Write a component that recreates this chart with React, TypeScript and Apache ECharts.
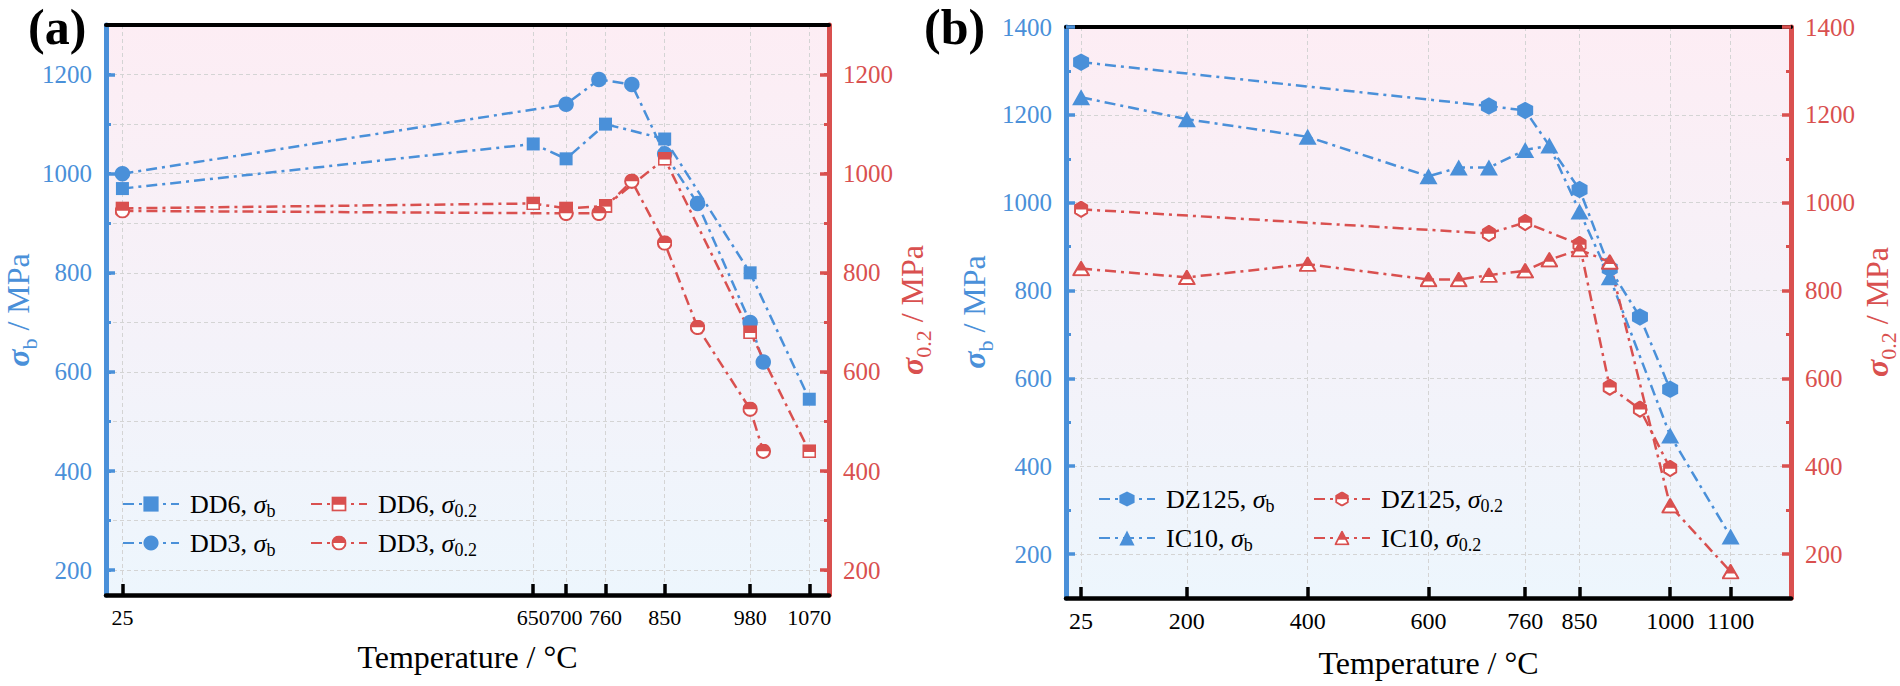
import React, { useEffect, useRef } from 'react';
import * as echarts from 'echarts';

const BLUE = '#4a90d9';
const RED = '#d9504f';
const FONT = 'Liberation Serif, serif';

// ---- Panel (a) data ----
const A_XTICKS = [25, 650, 700, 760, 850, 980, 1070];
const DD6_T = [25, 650, 700, 760, 850, 980, 1070];
const DD6_SB = [970, 1060, 1030, 1100, 1070, 800, 545];
const DD6_S02 = [930, 940, 930, 935, 1030, 680, 440];
const DD3_T = [25, 700, 750, 800, 850, 900, 980, 1000];
const DD3_SB = [1000, 1140, 1190, 1180, 1040, 940, 700, 620];
const DD3_S02 = [925, 920, 920, 985, 860, 690, 525, 440];
const A_YMAJOR = [200, 400, 600, 800, 1000, 1200];
const A_YGRID = [200, 300, 400, 500, 600, 700, 800, 900, 1000, 1100, 1200];

// ---- Panel (b) data ----
const B_XTICKS = [25, 200, 400, 600, 760, 850, 1000, 1100];
const DZ125_T = [25, 700, 760, 850, 900, 950, 1000];
const DZ125_SB = [1320, 1220, 1210, 1030, 850, 740, 575];
const DZ125_S02 = [985, 930, 955, 905, 580, 530, 395];
const IC10_T = [25, 200, 400, 600, 650, 700, 760, 800, 850, 900, 1000, 1100];
const IC10_SB = [1240, 1190, 1150, 1060, 1080, 1080, 1120, 1130, 980, 830, 470, 240];
const IC10_S02 = [850, 830, 860, 825, 825, 835, 845, 870, 893, 865, 310, 160];
const B_YMAJOR = [200, 400, 600, 800, 1000, 1200, 1400];
const B_YMINOR = [300, 500, 700, 900, 1100, 1300];

const LABELS: Record<string, string> = {
  DD6_b: 'DD6, {i|σ}{s|b}',
  DD3_b: 'DD3, {i|σ}{s|b}',
  DD6_02: 'DD6, {i|σ}{s|0.2}',
  DD3_02: 'DD3, {i|σ}{s|0.2}',
  DZ125_b: 'DZ125, {i|σ}{s|b}',
  IC10_b: 'IC10, {i|σ}{s|b}',
  DZ125_02: 'DZ125, {i|σ}{s|0.2}',
  IC10_02: 'IC10, {i|σ}{s|0.2}',
};

const svgUri = (body: string) =>
  'image://data:image/svg+xml;base64,' +
  btoa(`<svg xmlns="http://www.w3.org/2000/svg" viewBox="0 0 20 20" width="40" height="40">${body}</svg>`);

const HALF_SQUARE = svgUri(
  `<rect x="1.3" y="1.3" width="17.4" height="17.4" fill="#fff" stroke="${RED}" stroke-width="2.6"/><rect x="1.3" y="1.3" width="17.4" height="9.7" fill="${RED}"/>`
);
const HALF_CIRCLE = svgUri(
  `<circle cx="10" cy="10" r="8.7" fill="#fff" stroke="${RED}" stroke-width="2.6"/><path d="M1.3,10 A8.7,8.7 0 0 1 18.7,10 Z" fill="${RED}"/>`
);
const HALF_HEX = svgUri(
  `<polygon points="10,1.3 17.6,5.65 17.6,14.35 10,18.7 2.4,14.35 2.4,5.65" fill="#fff" stroke="${RED}" stroke-width="2.4" stroke-linejoin="round"/><polygon points="2.4,10.3 2.4,5.65 10,1.3 17.6,5.65 17.6,10.3" fill="${RED}"/>`
);
const HALF_TRI = svgUri(
  `<polygon points="10,1.6 18.7,18.4 1.3,18.4" fill="#fff" stroke="${RED}" stroke-width="2.4" stroke-linejoin="round"/><polygon points="10,1.6 15.6,12.4 4.4,12.4" fill="${RED}"/>`
);
const HEX = 'path://M10,0 L18.66,5 L18.66,15 L10,20 L1.34,15 L1.34,5 Z';

const GRIDLINE = { color: '#d4d4d4', width: 1, type: [4, 3] as number[] };
const DASHDOT = [11, 5, 3, 5];
const fmtNum = (v: number) => String(v);

const xAxes = (gridIndex: number, max: number, ticks: number[], fontSize: number, nameGap: number) => [
  {
    gridIndex,
    type: 'value',
    min: 0,
    max,
    position: 'bottom',
    axisLine: { show: true, onZero: false, lineStyle: { color: '#000', width: 4.5 } },
    axisTick: { show: true, inside: true, length: 11, customValues: ticks, lineStyle: { color: '#000', width: 3.5 } },
    axisLabel: {
      customValues: ticks,
      fontSize,
      lineHeight: fontSize,
      fontFamily: FONT,
      color: '#000',
      margin: 11,
      formatter: fmtNum,
    },
    splitLine: { show: true, lineStyle: GRIDLINE },
    name: 'Temperature / °C',
    nameLocation: 'middle',
    nameGap,
    nameTextStyle: { fontFamily: FONT, fontSize: 32, lineHeight: 32, color: '#000' },
  },
  {
    gridIndex,
    type: 'value',
    min: 0,
    max,
    position: 'top',
    axisLine: { show: true, onZero: false, lineStyle: { color: '#000', width: 4 } },
    axisTick: { show: false },
    axisLabel: { show: false },
    splitLine: { show: false },
  },
];

const yAxes = (
  gridIndex: number,
  min: number,
  max: number,
  major: number[],
  minor: number[],
  gridOnMinor: boolean
) => {
  const side = (position: string, color: string) => [
    {
      gridIndex,
      type: 'value',
      min,
      max,
      position,
      axisLine: { show: true, onZero: false, lineStyle: { color, width: 5 } },
      axisTick: { show: true, inside: true, length: 9, customValues: major, lineStyle: { color, width: 3.5 } },
      axisLabel: { customValues: major, color, fontSize: 25, fontFamily: FONT, margin: 14, formatter: fmtNum },
      splitLine: { show: position === 'left' && !gridOnMinor, lineStyle: GRIDLINE },
    },
    {
      gridIndex,
      type: 'value',
      min,
      max,
      position,
      axisLine: { show: false, onZero: false },
      axisTick: { show: true, inside: true, length: 5, customValues: minor, lineStyle: { color, width: 3 } },
      axisLabel: { show: false },
      splitLine: { show: position === 'left' && gridOnMinor, lineStyle: GRIDLINE },
    },
  ];
  return [...side('left', BLUE), ...side('right', RED)];
};

// rotated y-axis titles (reading bottom to top), centred on (x, y)
const yTitle = (x: number, y: number, sub: string, color: string) => ({
  type: 'text',
  x,
  y,
  rotation: Math.PI / 2,
  z: 10,
  style: {
    text: `{i|σ}{s|${sub}}{t| / MPa}`,
    align: 'center',
    verticalAlign: 'middle',
    fill: color,
    fontFamily: FONT,
    fontSize: 32,
    lineHeight: 44,
    rich: {
      i: { fontStyle: 'italic', fontWeight: 'bold', fontSize: 32, lineHeight: 44, fill: color, fontFamily: FONT },
      s: { fontSize: 22, lineHeight: 22, verticalAlign: 'bottom', fill: color, fontFamily: FONT },
      t: { fontSize: 32, lineHeight: 44, fill: color, fontFamily: FONT },
    },
  },
});

const series = (
  name: string,
  T: number[],
  V: number[],
  color: string,
  symbol: string,
  size: number | number[],
  xAxisIndex: number,
  yAxisIndex: number
) => ({
  type: 'line',
  name,
  data: T.map((t, i) => [t, V[i]]),
  xAxisIndex,
  yAxisIndex,
  symbol,
  symbolSize: size,
  showAllSymbol: true,
  lineStyle: { color, width: 2.5, type: DASHDOT },
  itemStyle: { color },
  emphasis: { disabled: true },
  z: 3,
});

const legend = (left: number, top: number, data: string[]) => ({
  orient: 'vertical',
  left,
  top,
  data,
  padding: 0,
  itemWidth: 56,
  itemHeight: 19,
  itemGap: 7,
  selectedMode: false,
  formatter: (n: string) => LABELS[n],
  textStyle: {
    fontFamily: FONT,
    fontSize: 26,
    lineHeight: 32,
    color: '#000',
    padding: [0, 0, 0, 6],
    rich: {
      i: { fontStyle: 'italic', fontFamily: FONT, fontSize: 26, lineHeight: 32, color: '#000' },
      s: { fontFamily: FONT, fontSize: 18, lineHeight: 18, verticalAlign: 'bottom', color: '#000' },
    },
  },
});

const GRAD = {
  type: 'linear',
  x: 0,
  y: 0,
  x2: 0,
  y2: 1,
  colorStops: [
    { offset: 0, color: '#fdedf4' },
    { offset: 1, color: '#edf6fd' },
  ],
};

export default function App() {
  const ref = useRef<HTMLDivElement>(null);
  useEffect(() => {
    if (!ref.current) return;
    const chart = echarts.init(ref.current, null, { renderer: 'svg' });
    chart.setOption({
      animation: false,
      backgroundColor: '#fff',
      grid: [
        { left: 106, top: 25, width: 723, height: 570, show: true, borderWidth: 0, backgroundColor: GRAD },
        { left: 1066, top: 27, width: 725, height: 571, show: true, borderWidth: 0, backgroundColor: GRAD },
      ],
      xAxis: [...xAxes(0, 1100, A_XTICKS, 22, 46), ...xAxes(1, 1200, B_XTICKS, 24, 49)],
      yAxis: [
        ...yAxes(0, 150, 1300, A_YMAJOR, A_YGRID, true),
        ...yAxes(1, 100, 1400, B_YMAJOR, B_YMINOR, false),
      ],
      legend: [
        legend(122, 488, ['DD6_b', 'DD3_b']),
        legend(310, 488, ['DD6_02', 'DD3_02']),
        legend(1098, 483, ['DZ125_b', 'IC10_b']),
        legend(1313, 483, ['DZ125_02', 'IC10_02']),
      ],
      graphic: [
        { type: 'text', x: 28, y: 2, style: { text: '(a)', fontFamily: FONT, fontWeight: 'bold', fontSize: 50, fill: '#000', verticalAlign: 'top' } },
        { type: 'text', x: 924, y: 2, style: { text: '(b)', fontFamily: FONT, fontWeight: 'bold', fontSize: 50, fill: '#000', verticalAlign: 'top' } },
        yTitle(18, 310, 'b', BLUE),
        yTitle(912, 310, '0.2', RED),
        yTitle(974, 312, 'b', BLUE),
        yTitle(1877, 312, '0.2', RED),
      ],
      series: [
        series('DD6_b', DD6_T, DD6_SB, BLUE, 'rect', 13, 0, 0),
        series('DD3_b', DD3_T, DD3_SB, BLUE, 'circle', 15.5, 0, 0),
        series('DD6_02', DD6_T, DD6_S02, RED, HALF_SQUARE, 14, 0, 2),
        series('DD3_02', DD3_T, DD3_S02, RED, HALF_CIRCLE, 15.5, 0, 2),
        series('DZ125_b', DZ125_T, DZ125_SB, BLUE, HEX, [16, 17.5], 2, 4),
        series('IC10_b', IC10_T, IC10_SB, BLUE, 'triangle', [18, 16], 2, 4),
        series('DZ125_02', DZ125_T, DZ125_S02, RED, HALF_HEX, [16, 17.5], 2, 6),
        series('IC10_02', IC10_T, IC10_S02, RED, HALF_TRI, [18, 16], 2, 6),
      ],
    });
    return () => chart.dispose();
  }, []);
  return <div ref={ref} style={{ position: 'absolute', left: 0, top: 0, width: 1900, height: 686 }} />;
}
